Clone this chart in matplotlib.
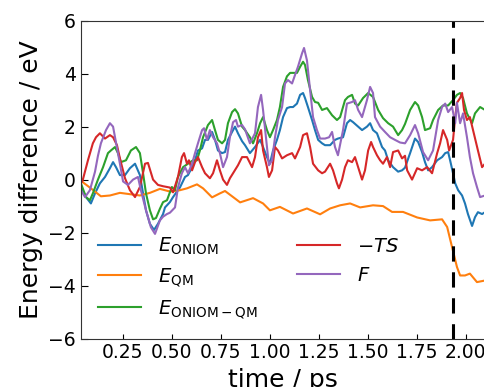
import matplotlib
matplotlib.use("Agg")
import matplotlib.pyplot as plt

# values (time in ps, energies in eV)
t_oniom = [0.037, 0.063, 0.088, 0.109, 0.134, 0.160, 0.185, 0.201, 0.216, 0.236, 0.262, 0.287, 0.313, 0.338,
           0.354, 0.369, 0.389, 0.410, 0.430, 0.456, 0.466, 0.491, 0.507, 0.527, 0.542, 0.568, 0.583, 0.604,
           0.619, 0.634, 0.655, 0.670, 0.685, 0.706, 0.721, 0.736, 0.757, 0.772, 0.787, 0.808, 0.823, 0.838,
           0.859, 0.874, 0.899, 0.925, 0.951, 0.966, 0.986, 1.001, 1.017, 1.037, 1.052, 1.068, 1.088, 1.104,
           1.119, 1.139, 1.155, 1.170, 1.180, 1.195, 1.216, 1.231, 1.247, 1.267, 1.282, 1.308, 1.333, 1.348,
           1.374, 1.394, 1.410, 1.425, 1.451, 1.471, 1.496, 1.512, 1.527, 1.547, 1.573, 1.588, 1.604, 1.629,
           1.655, 1.675, 1.690, 1.716, 1.741, 1.757, 1.777, 1.792, 1.808, 1.828, 1.854, 1.879, 1.895, 1.910,
           1.920, 1.935, 1.946, 1.961, 1.981, 1.996, 2.011, 2.032, 2.047, 2.062, 2.083, 2.098]
e_oniom = [-0.28, -0.66, -0.9, -0.52, -0.14, 0.1, 0.43, 0.66, 0.47, 0.17, 0.17, 0.43, 0.6, 0.17,
           -0.52, -1.16, -1.67, -1.9, -1.67, -1.3, -1.05, -0.85, -0.66, -0.45, -0.3, 0.1, 0.17, 0.47,
           0.73, 1.1, 1.18, 1.5, 1.5, 1.8, 1.5, 1.1, 1.0, 1.04, 1.5, 1.8, 2.0, 1.75,
           1.45, 1.3, 1.0, 1.23, 1.5, 1.23, 0.85, 0.6, 1.1, 1.5, 1.87, 2.36, 2.7, 2.74,
           2.74, 2.87, 3.2, 3.27, 3.08, 2.74, 2.25, 1.87, 1.5, 1.37, 1.3, 1.3, 1.5, 1.55,
           1.6, 2.13, 2.25, 2.17, 2.0, 1.87, 2.0, 2.13, 1.87, 1.75, 1.23, 1.1, 0.73, 0.47,
           0.3, 0.35, 0.45, 1.0, 1.55, 1.42, 1.04, 0.66, 0.35, 0.47, 0.73, 0.85, 1.0, 1.04,
           0.73, 0.24, -0.14, -0.4, -0.6, -0.9, -1.3, -1.75, -1.42, -1.23, -1.3, -1.23]

t_qm = [0.037, 0.047, 0.088, 0.139, 0.185, 0.236, 0.287, 0.338, 0.389, 0.440, 0.491, 0.542, 0.578, 0.629,
        0.660, 0.706, 0.746, 0.772, 0.808, 0.849, 0.915, 0.966, 1.001, 1.052, 1.119, 1.190, 1.257, 1.308,
        1.359, 1.410, 1.461, 1.527, 1.578, 1.624, 1.680, 1.752, 1.818, 1.879, 1.905, 1.930, 1.955, 1.971,
        1.996, 2.021, 2.057, 2.098]
e_qm = [0.05, -0.1, -0.33, -0.63, -0.6, -0.5, -0.55, -0.6, -0.5, -0.35, -0.45, -0.4, -0.33, -0.18,
        -0.33, -0.67, -0.52, -0.43, -0.63, -0.86, -0.7, -0.9, -1.16, -1.03, -1.28, -1.09, -1.31, -1.09,
        -0.97, -0.9, -1.05, -0.97, -1.0, -1.22, -1.22, -1.43, -1.54, -1.5, -1.79, -2.55, -3.3, -3.62,
        -3.62, -3.55, -3.87, -3.81]

t_mm = [0.037, 0.063, 0.083, 0.098, 0.124, 0.150, 0.175, 0.190, 0.211, 0.226, 0.241, 0.267, 0.292, 0.318,
        0.338, 0.354, 0.369, 0.389, 0.405, 0.420, 0.440, 0.456, 0.476, 0.501, 0.517, 0.532, 0.558, 0.583,
        0.609, 0.629, 0.644, 0.660, 0.685, 0.706, 0.721, 0.736, 0.757, 0.772, 0.787, 0.808, 0.823, 0.838,
        0.859, 0.874, 0.899, 0.915, 0.935, 0.951, 0.966, 0.986, 1.001, 1.017, 1.037, 1.052, 1.068, 1.088,
        1.104, 1.119, 1.139, 1.155, 1.170, 1.180, 1.195, 1.216, 1.231, 1.247, 1.267, 1.292, 1.318, 1.343,
        1.359, 1.384, 1.399, 1.420, 1.435, 1.451, 1.476, 1.502, 1.527, 1.553, 1.578, 1.604, 1.629, 1.655,
        1.675, 1.690, 1.716, 1.741, 1.757, 1.777, 1.792, 1.818, 1.833, 1.859, 1.884, 1.910, 1.935, 1.955,
        1.971, 1.986, 2.006, 2.032, 2.047, 2.073, 2.098]
e_mm = [-0.14, -0.66, -0.78, -0.52, 0.0, 0.47, 1.0, 1.1, 1.23, 1.0, 0.66, 0.73, 1.1, 1.23,
        1.0, 0.24, -0.52, -1.16, -1.5, -1.45, -1.1, -0.85, -0.78, -0.28, -0.4, 0.1, 0.47, 0.6,
        0.73, 0.73, 1.1, 1.6, 2.06, 2.25, 1.87, 1.5, 1.37, 1.5, 2.13, 2.55, 2.66, 2.5,
        2.0, 1.87, 1.6, 1.37, 1.75, 2.13, 2.36, 1.87, 1.6, 1.87, 2.25, 2.74, 3.5, 3.9,
        4.03, 4.03, 4.03, 4.26, 4.45, 4.33, 3.76, 3.12, 2.93, 2.9, 2.63, 2.7, 2.43, 2.25,
        2.36, 3.0, 3.12, 3.2, 2.87, 2.8, 3.08, 3.27, 3.12, 2.63, 2.32, 2.13, 2.0, 1.68,
        1.87, 2.1, 2.63, 2.93, 2.8, 2.36, 1.87, 1.94, 2.25, 2.63, 2.8, 2.8, 3.0, 3.2,
        3.27, 3.08, 2.5, 2.13, 2.5, 2.74, 2.63]

t_ts = [0.037, 0.047, 0.073, 0.098, 0.114, 0.134, 0.160, 0.185, 0.201, 0.221, 0.236, 0.262, 0.287, 0.313,
        0.338, 0.364, 0.379, 0.405, 0.430, 0.456, 0.491, 0.507, 0.532, 0.552, 0.563, 0.578, 0.588, 0.604,
        0.619, 0.634, 0.655, 0.670, 0.695, 0.711, 0.731, 0.746, 0.762, 0.782, 0.797, 0.813, 0.838, 0.859,
        0.884, 0.910, 0.925, 0.940, 0.956, 0.966, 0.986, 0.996, 1.012, 1.027, 1.042, 1.063, 1.088, 1.114,
        1.129, 1.155, 1.170, 1.190, 1.206, 1.221, 1.247, 1.267, 1.282, 1.308, 1.323, 1.343, 1.353, 1.369,
        1.384, 1.399, 1.420, 1.435, 1.451, 1.471, 1.486, 1.502, 1.517, 1.527, 1.547, 1.563, 1.578, 1.598,
        1.614, 1.629, 1.655, 1.675, 1.690, 1.701, 1.726, 1.752, 1.777, 1.803, 1.828, 1.854, 1.869, 1.884,
        1.905, 1.915, 1.935, 1.946, 1.955, 1.971, 1.981, 1.991, 2.006, 2.021, 2.037, 2.062, 2.083, 2.098]
e_ts = [-0.14, 0.0, 0.73, 1.37, 1.6, 1.75, 1.55, 1.68, 1.6, 1.3, 0.8, 0.05, -0.4, -0.66,
        -0.28, 0.6, 0.63, 0.0, -0.2, -0.25, -0.3, -0.48, 0.1, 0.85, 1.0, 0.6, 0.73, 0.35,
        0.66, 0.85, 0.47, 0.24, 0.05, 0.24, 0.73, 0.35, 0.0, -0.2, 0.05, 0.24, 0.54, 0.85,
        0.85, 0.47, 0.85, 1.6, 1.87, 1.1, 0.47, 0.1, 0.35, 1.23, 1.1, 0.8, 0.92, 1.0,
        0.8, 1.23, 1.68, 1.75, 1.23, 0.6, 0.35, 0.24, 0.3, 0.6, 0.35, -0.14, -0.33, 0.0,
        0.47, 0.73, 0.66, 0.85, 0.47, 0.0, 0.35, 1.1, 1.42, 1.23, 0.92, 0.73, 0.6, 0.85,
        0.47, 1.04, 1.1, 0.8, 0.9, 0.35, 0.0, 0.43, 0.35, 0.47, 0.24, 1.0, 1.37, 1.87,
        1.5, 1.1, 1.5, 2.36, 2.9, 3.08, 3.27, 2.63, 2.25, 2.36, 1.87, 1.1, 0.47, 0.6]

t_f = [0.037, 0.058, 0.083, 0.109, 0.124, 0.139, 0.165, 0.185, 0.201, 0.216, 0.236, 0.252, 0.277, 0.303,
       0.328, 0.343, 0.369, 0.394, 0.415, 0.440, 0.456, 0.476, 0.491, 0.517, 0.532, 0.552, 0.568, 0.583,
       0.604, 0.619, 0.634, 0.655, 0.665, 0.680, 0.695, 0.711, 0.731, 0.746, 0.762, 0.782, 0.797, 0.813,
       0.828, 0.838, 0.859, 0.874, 0.899, 0.925, 0.940, 0.956, 0.966, 0.986, 0.996, 1.012, 1.027, 1.042,
       1.063, 1.078, 1.093, 1.114, 1.129, 1.144, 1.165, 1.175, 1.190, 1.206, 1.221, 1.241, 1.257, 1.282,
       1.303, 1.318, 1.333, 1.348, 1.374, 1.394, 1.420, 1.435, 1.451, 1.471, 1.496, 1.512, 1.527, 1.537,
       1.563, 1.588, 1.614, 1.639, 1.665, 1.690, 1.716, 1.741, 1.757, 1.782, 1.808, 1.833, 1.859, 1.879,
       1.895, 1.910, 1.930, 1.946, 1.955, 1.971, 1.986, 2.006, 2.021, 2.037, 2.057, 2.073, 2.098]
e_f = [-0.4, -0.66, -0.4, 0.3, 0.9, 1.37, 1.87, 2.13, 2.0, 1.4, 0.6, -0.07, -0.2, 0.0,
       0.1, -0.4, -1.16, -1.8, -2.05, -1.54, -1.4, -1.3, -1.25, -1.05, -0.3, 0.24, 0.47, 0.24,
       0.6, 1.0, 1.37, 1.87, 1.94, 1.5, 1.87, 1.6, 1.37, 1.0, 0.47, 0.85, 1.6, 2.17,
       2.25, 2.0, 2.06, 1.9, 1.37, 1.75, 2.74, 3.2, 2.63, 1.23, 0.54, 0.73, 1.6, 2.25,
       2.74, 3.63, 3.76, 3.63, 3.95, 4.26, 4.77, 4.97, 4.5, 3.38, 2.36, 1.87, 1.55, 1.55,
       1.6, 1.8, 1.23, 0.92, 1.87, 2.87, 2.93, 3.0, 2.63, 2.36, 3.0, 3.5, 3.27, 2.36,
       2.0, 1.8, 1.6, 1.5, 1.4, 1.37, 1.68, 2.06, 1.75, 1.04, 0.73, 1.1, 2.25, 2.74,
       2.87, 2.55, 2.74, 2.13, 2.9, 2.13, 2.5, 1.6, 0.85, 0.24, -0.28, -0.66, -0.6]

t_event = 1.935

fig = plt.figure(figsize=(4.85, 3.87), dpi=100)
ax = fig.add_axes([0.1664, 0.1253, 0.8336, 0.8212])

lw = 1.5
ax.plot(t_oniom, e_oniom, color='tab:blue', lw=lw, label=r'$E_{\mathrm{ONIOM}}$')
ax.plot(t_qm, e_qm, color='tab:orange', lw=lw, label=r'$E_{\mathrm{QM}}$')
ax.plot(t_mm, e_mm, color='tab:green', lw=lw, label=r'$E_{\mathrm{ONIOM-QM}}$')
ax.plot(t_ts, e_ts, color='tab:red', lw=lw, label=r'$-TS$')
ax.plot(t_f, e_f, color='tab:purple', lw=lw, label=r'$F$')
ax.axvline(t_event, color='black', lw=2.2, linestyle=(0, (5, 3.5)))

ax.set_xlim(0.036, 2.098)
ax.set_ylim(-6, 6)
ax.set_xticks([0.25, 0.5, 0.75, 1.0, 1.25, 1.5, 1.75, 2.0])
ax.set_yticks([-6, -4, -2, 0, 2, 4, 6])
ax.tick_params(axis='both', direction='in', labelsize=13.5)
ax.tick_params(axis='x', length=3.5)
ax.tick_params(axis='y', length=5)
ax.spines['right'].set_visible(False)
for s in ['top', 'bottom', 'left']:
    ax.spines[s].set_color('0.2')

ax.set_xlabel('time / ps', fontsize=18)
ax.set_ylabel('Energy difference / eV', fontsize=18)

ax.legend(loc='lower left', ncol=2, frameon=False, fontsize=14,
          handlelength=2.2, handletextpad=0.9, columnspacing=2.0)

fig.savefig('out.png', dpi=100)
